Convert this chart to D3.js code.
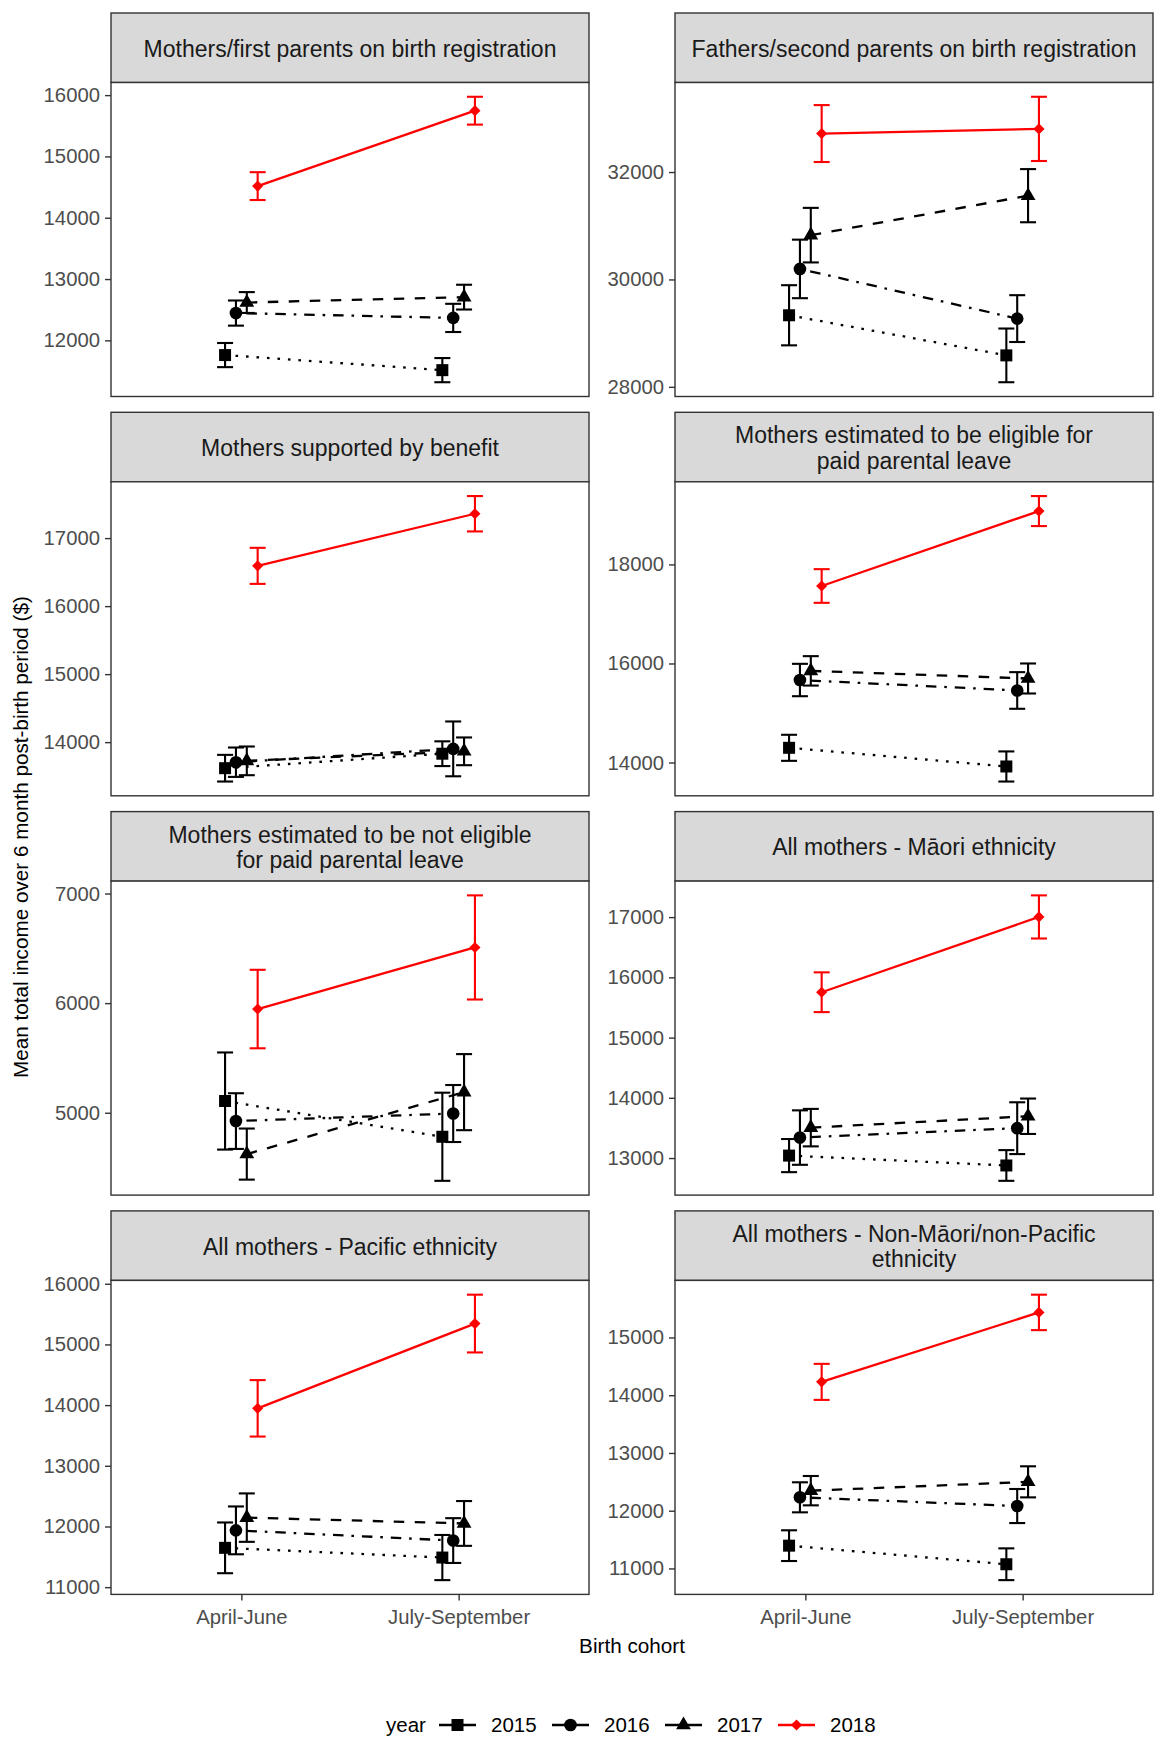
<!DOCTYPE html>
<html>
<head>
<meta charset="utf-8">
<script src="https://cdn.jsdelivr.net/npm/d3@7"></script>
<style>
  body { margin: 0; background: #fff; }
  text { font-family: "Liberation Sans", Arial, sans-serif; }
</style>
</head>
<body>
<script>
// categories and series
var cohorts = ["April-June", "July-September"];
var years = ["2015", "2016", "2017", "2018"];

var panelTitles = [
    ["Mothers/first parents on birth registration"],
    ["Fathers/second parents on birth registration"],
    ["Mothers supported by benefit"],
    ["Mothers estimated to be eligible for", "paid parental leave"],
    ["Mothers estimated to be not eligible", "for paid parental leave"],
    ["All mothers - Māori ethnicity"],
    ["All mothers - Pacific ethnicity"],
    ["All mothers - Non-Māori/non-Pacific", "ethnicity"]
];

// mean income, per panel -> per year -> [April-June, July-September]
var meanIncome = [
    [[11760, 11514], [12445, 12366], [12617, 12705], [14516, 15746]],
    [[29333, 28586], [30196, 29271], [30825, 31560], [32717, 32804]],
    [[13617, 13830], [13705, 13901], [13725, 13865], [16592, 17358]],
    [[14297, 13920], [15666, 15455], [15851, 15697], [17565, 19078]],
    [[5107, 4781], [4924, 4993], [4623, 5188], [5946, 6508]],
    [[13041, 12877], [13340, 13496], [13505, 13694], [15753, 17003]],
    [[11648, 11488], [11936, 11768], [12146, 12050], [13947, 15344]],
    [[11395, 11073], [12232, 12081], [12347, 12500], [14231, 15434]]
];

// half width of the error bars, same shape as meanIncome
var errHalf = [
    [[197, 197], [205, 230], [170, 202], [227, 227]],
    [[560, 500], [545, 436], [508, 495], [530, 598]],
    [[196, 182], [216, 403], [211, 204], [265, 260]],
    [[263, 304], [327, 370], [297, 303], [340, 303]],
    [[443, 402], [254, 260], [233, 347], [358, 475]],
    [[275, 255], [452, 430], [311, 294], [330, 358]],
    [[418, 372], [394, 369], [399, 369], [465, 476]],
    [[266, 275], [260, 295], [254, 269], [312, 307]]
];

// y tick labels per panel
var yTicks = [
    [12000, 13000, 14000, 15000, 16000],
    [28000, 30000, 32000],
    [14000, 15000, 16000, 17000],
    [14000, 16000, 18000],
    [5000, 6000, 7000],
    [13000, 14000, 15000, 16000, 17000],
    [11000, 12000, 13000, 14000, 15000, 16000],
    [11000, 12000, 13000, 14000, 15000]
];

// styling per year
var yearColor = ["#000", "#000", "#000", "#FF0000"];
var yearDash = ["2.6,7.9", "2.6,7.9,10.5,7.9", "10.5,10.5", null];
var yearShape = ["square", "circle", "triangle", "diamond"];

var W = 1157, H = 1737;
var colX = [111, 675], panelW = 478;
var rowTop = 13, rowPitch = 399.3, stripH = 69.5, panelH = 314;
var tickFont = 20.3, titleFont = 20.7, stripFont = 23;

var svg = d3.select("body").append("svg")
    .attr("width", W)
    .attr("height", H);

var x = d3.scalePoint().domain(cohorts).range([0, panelW]).padding(0.6);
var dodge = 0.05 * x.step();

function symbolPath(shape) {
    if (shape === "square") return d3.symbol(d3.symbolSquare, 144)();
    if (shape === "circle") return d3.symbol(d3.symbolCircle, 125)();
    if (shape === "triangle") return d3.symbol(d3.symbolTriangle, 95)();
    return d3.symbol(d3.symbolSquare, 62)();
}

panelTitles.forEach(function(title, p) {
    var col = p % 2, row = Math.floor(p / 2);
    var left = colX[col];
    var top = rowTop + row * rowPitch;

    // strip
    var strip = svg.append("g").attr("transform", "translate(" + left + "," + top + ")");
    strip.append("rect")
        .attr("width", panelW).attr("height", stripH)
        .attr("fill", "#D9D9D9").attr("stroke", "#333").attr("stroke-width", 1.4);
    var lineGap = 25.5;
    title.forEach(function(t, i) {
        strip.append("text")
            .attr("x", panelW / 2)
            .attr("y", stripH / 2 + 1 + (i - (title.length - 1) / 2) * lineGap)
            .attr("dy", "0.35em")
            .attr("text-anchor", "middle")
            .attr("font-size", stripFont)
            .attr("fill", "#1A1A1A")
            .text(t);
    });

    var g = svg.append("g")
        .attr("transform", "translate(" + left + "," + (top + stripH) + ")");

    // y scale with ggplot-like 5% expansion
    var lo = d3.min(meanIncome[p], function(s, k) {
        return d3.min(s, function(v, c) { return v - errHalf[p][k][c]; });
    });
    var hi = d3.max(meanIncome[p], function(s, k) {
        return d3.max(s, function(v, c) { return v + errHalf[p][k][c]; });
    });
    var pad = (hi - lo) * 0.05;
    var y = d3.scaleLinear().domain([lo - pad, hi + pad]).range([panelH, 0]);

    g.append("rect")
        .attr("width", panelW).attr("height", panelH)
        .attr("fill", "#fff");

    var yAxis = g.append("g")
        .call(d3.axisLeft(y).tickValues(yTicks[p]).tickSize(6).tickPadding(5)
            .tickFormat(d3.format("d")));
    yAxis.select(".domain").remove();
    yAxis.selectAll("line").attr("stroke", "#333").attr("stroke-width", 1.4);
    yAxis.selectAll("text").attr("font-size", tickFont).attr("fill", "#4D4D4D")
        .style("font-family", "'Liberation Sans', Arial, sans-serif");

    if (row === 3) {
        var xAxis = g.append("g")
            .attr("transform", "translate(0," + panelH + ")")
            .call(d3.axisBottom(x).tickSize(6).tickPadding(9));
        xAxis.select(".domain").remove();
        xAxis.selectAll("line").attr("stroke", "#333").attr("stroke-width", 1.4);
        xAxis.selectAll("text").attr("font-size", tickFont).attr("fill", "#4D4D4D")
            .style("font-family", "'Liberation Sans', Arial, sans-serif");
    }

    years.forEach(function(yr, k) {
        var off = (k - 1.5) * dodge;
        var pts = cohorts.map(function(c, ci) {
            return {
                x: x(c) + off,
                m: meanIncome[p][k][ci],
                e: errHalf[p][k][ci]
            };
        });
        var line = d3.line()
            .x(function(d) { return d.x; })
            .y(function(d) { return y(d.m); });

        g.append("path")
            .datum(pts)
            .attr("d", line)
            .attr("fill", "none")
            .attr("stroke", yearColor[k])
            .attr("stroke-width", 2.3)
            .attr("stroke-dasharray", yearDash[k]);

        var eb = g.selectAll(".eb" + k).data(pts).enter().append("g");
        eb.append("line")
            .attr("x1", function(d) { return d.x; })
            .attr("x2", function(d) { return d.x; })
            .attr("y1", function(d) { return y(d.m - d.e); })
            .attr("y2", function(d) { return y(d.m + d.e); });
        eb.append("line")
            .attr("x1", function(d) { return d.x - 8; })
            .attr("x2", function(d) { return d.x + 8; })
            .attr("y1", function(d) { return y(d.m - d.e); })
            .attr("y2", function(d) { return y(d.m - d.e); });
        eb.append("line")
            .attr("x1", function(d) { return d.x - 8; })
            .attr("x2", function(d) { return d.x + 8; })
            .attr("y1", function(d) { return y(d.m + d.e); })
            .attr("y2", function(d) { return y(d.m + d.e); });
        eb.selectAll("line")
            .attr("stroke", yearColor[k])
            .attr("stroke-width", 2.1);

        g.selectAll(".pt" + k).data(pts).enter().append("path")
            .attr("d", symbolPath(yearShape[k]))
            .attr("transform", function(d) {
                return "translate(" + d.x + "," + y(d.m) + ")" +
                    (yearShape[k] === "diamond" ? " rotate(45)" : "");
            })
            .attr("fill", yearColor[k]);
    });

    g.append("rect")
        .attr("width", panelW).attr("height", panelH)
        .attr("fill", "none").attr("stroke", "#333").attr("stroke-width", 1.4);
});

// axis titles
svg.append("text")
    .attr("x", (colX[0] + colX[1] + panelW) / 2)
    .attr("y", 1646)
    .attr("dy", "0.35em")
    .attr("text-anchor", "middle")
    .attr("font-size", titleFont)
    .text("Birth cohort");

svg.append("text")
    .attr("transform", "translate(21,837) rotate(-90)")
    .attr("dy", "0.35em")
    .attr("text-anchor", "middle")
    .attr("font-size", titleFont)
    .text("Mean total income over 6 month post-birth period ($)");

// legend
var legend = svg.append("g").attr("transform", "translate(0,1725)");
legend.append("text")
    .attr("x", 386).attr("dy", "0.35em")
    .attr("font-size", 20.5)
    .text("year");
var keyX = [439, 552, 665, 778];
years.forEach(function(yr, k) {
    var kg = legend.append("g").attr("transform", "translate(" + keyX[k] + ",0)");
    kg.append("line")
        .attr("x1", 0).attr("x2", 37)
        .attr("stroke", yearColor[k]).attr("stroke-width", 2.3);
    kg.append("path")
        .attr("d", symbolPath(yearShape[k]))
        .attr("transform", "translate(18.5,0)" +
            (yearShape[k] === "diamond" ? " rotate(45)" : ""))
        .attr("fill", yearColor[k]);
    kg.append("text")
        .attr("x", 52).attr("dy", "0.35em")
        .attr("font-size", 20.5)
        .text(yr);
});
</script>
</body>
</html>
